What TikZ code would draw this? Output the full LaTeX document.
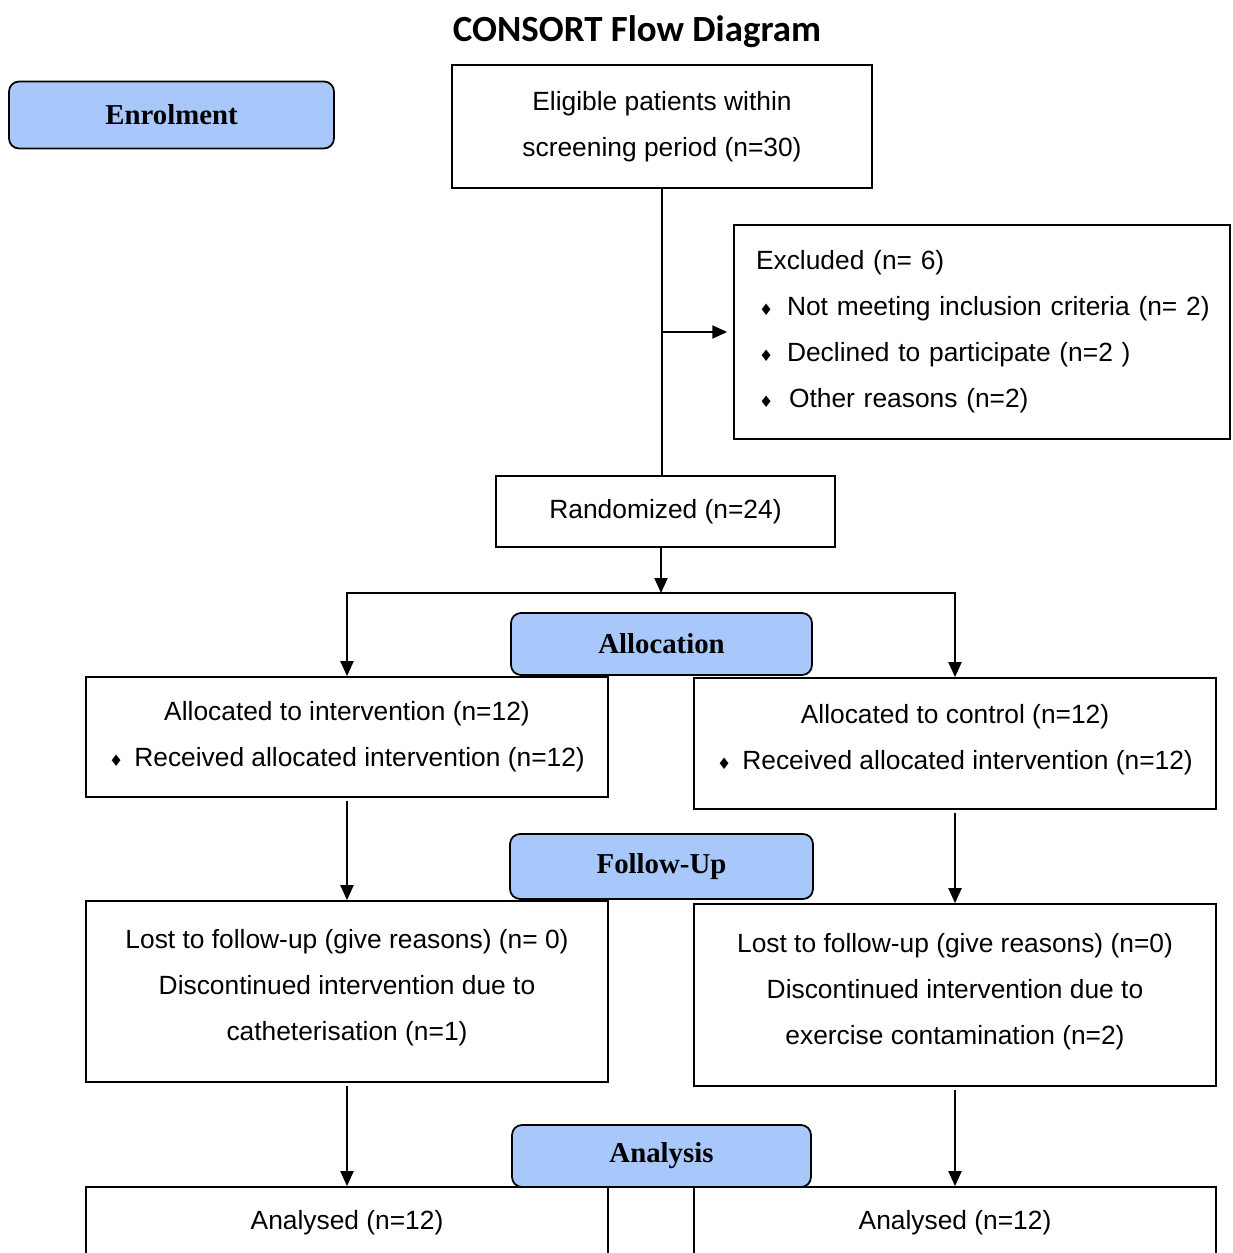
\documentclass[tikz,border=0pt]{standalone}
\usepackage{fontspec}
\setmainfont{Liberation Sans}
\newfontfamily\bannerfont{Liberation Serif}
\newfontfamily\titlefont{Carlito}
\newfontfamily\symfont{DejaVu Sans}
\usetikzlibrary{arrows.meta}
\definecolor{bannerblue}{RGB}{168,199,250}
\def\bul{{\symfont\fontsize{9}{9}\selectfont ♦}}
\def\lift#1{\raisebox{0.12cm}[\height][\depth]{\begin{tabular}{@{}c@{}}#1\end{tabular}}}

\begin{document}
\begin{tikzpicture}[x=0.02cm,y=-0.02cm,
  box/.style={draw, line width=1pt, font=\fontsize{15}{26.2}\selectfont, align=center, inner sep=0pt},
  banner/.style={draw, line width=1pt, rounded corners=0.2cm, fill=bannerblue, font=\bannerfont\bfseries\fontsize{16.4}{16.4}\selectfont},
  link/.style={line width=1.1pt},
  arr/.style={line width=1.1pt, -{Triangle[length=8.5pt,width=7.4pt]}}]
  %%%%% FRAME %%%%%
  \clip (0,0) rectangle (1232,1253);

  \node[font=\titlefont\bfseries\fontsize{21}{21}\selectfont] (title) at (637,32) {CONSORT Flow Diagram};

  %%%%% ENROLMENT %%%%%
  \node[banner, minimum width=6.5cm, minimum height=1.34cm] (enrol) at (171.5,115) {Enrolment};
  \node[box, minimum width=8.4cm, minimum height=2.46cm] (elig) at (662,126.5) {Eligible patients within\\screening period (n=30)};
  \node[box, align=left, text width=9.04cm, minimum width=9.92cm, minimum height=4.28cm] (excl) at (982,332)
    {Excluded (n= 6)\\
     \mbox{\hspace*{0.06cm}\makebox[0.56cm][l]{\bul}Not meeting inclusion criteria (n= 2)}\\
     \mbox{\hspace*{0.06cm}\makebox[0.56cm][l]{\bul}Declined to participate (n=2 )}\\
     \mbox{\hspace*{0.06cm}\makebox[0.60cm][l]{\bul}Other reasons (n=2)}};
  \node[box, minimum width=6.78cm, minimum height=1.42cm] (rand) at (665.5,511.5) {Randomized (n=24)};

  \draw[link] (elig.south) -- (elig.south |- rand.north);
  \coordinate (exclfork) at (elig.south |- excl.west);
  \draw[arr, shorten >=0.12cm] (exclfork) -- (excl.west);

  %%%%% ALLOCATION %%%%%
  \coordinate (split) at (661,593);
  \draw[arr] (split |- rand.south) -- (split);
  \node[banner, minimum width=6.02cm, minimum height=1.24cm] (alloc) at (661.5,644) {Allocation};
  \node[box, minimum width=10.44cm, minimum height=2.4cm] (allocL) at (347,737)
    {Allocated to intervention (n=12)\\\bul\hspace{0.22cm}Received allocated intervention (n=12)};
  \node[box, minimum width=10.44cm, minimum height=2.62cm] (allocR) at (955,743.5)
    {\lift{Allocated to control (n=12)\\\bul\hspace{0.22cm}Received allocated intervention (n=12)}};
  \draw[arr] (split) -| (allocL.north);
  \draw[arr] (split) -| (allocR.north);

  %%%%% FOLLOW-UP %%%%%
  \node[banner, minimum width=6.06cm, minimum height=1.3cm] (follow) at (661.5,866.5) {Follow-Up};
  \node[box, minimum width=10.44cm, minimum height=3.62cm] (lostL) at (347,991.5)
    {\lift{Lost to follow-up (give reasons) (n= 0)\\Discontinued intervention due to\\catheterisation (n=1)}};
  \node[box, minimum width=10.44cm, minimum height=3.64cm] (lostR) at (955,995)
    {\lift{Lost to follow-up (give reasons) (n=0)\\Discontinued intervention due to\\exercise contamination (n=2)}};
  \draw[arr, shorten <=0.06cm] (allocL.south) -- (lostL.north);
  \draw[arr, shorten <=0.06cm] (allocR.south) -- (lostR.north);

  %%%%% ANALYSIS %%%%%
  \node[banner, minimum width=5.98cm, minimum height=1.24cm] (analysis) at (661.5,1156) {Analysis};
  \node[box, minimum width=10.44cm, minimum height=1.44cm] (anaL) at (347,1223) {Analysed (n=12)};
  \node[box, minimum width=10.44cm, minimum height=1.44cm] (anaR) at (955,1223) {Analysed (n=12)};
  \draw[arr, shorten <=0.06cm] (lostL.south) -- (anaL.north);
  \draw[arr, shorten <=0.06cm] (lostR.south) -- (anaR.north);
\end{tikzpicture}
\end{document}
